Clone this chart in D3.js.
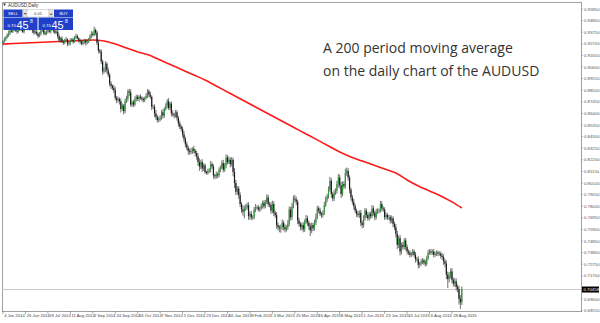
<!DOCTYPE html>
<html><head><meta charset="utf-8">
<script src="https://cdn.jsdelivr.net/npm/d3@7"></script>
<style>html,body{margin:0;padding:0;background:#fff;} svg{display:block;}</style>
</head><body>
<svg id="c" width="600" height="323"></svg>
<script>
// ---- DATA ----
const firstOpen = 0.9275;
const closes = [
0.9290,0.9310,0.9330,0.9350,0.9370,0.9390,0.9380,0.9400,0.9410,0.9390,0.9380,0.9400,0.9420,0.9400,0.9380,0.9410,
0.9420,0.9430,0.9410,0.9440,0.9430,0.9390,0.9370,0.9380,0.9360,0.9340,0.9360,0.9390,0.9400,0.9370,0.9360,0.9380,
0.9390,0.9380,0.9400,0.9410,0.9390,0.9370,0.9380,0.9340,0.9300,0.9320,0.9290,0.9280,0.9300,0.9310,0.9270,0.9280,
0.9300,0.9310,0.9290,0.9330,0.9340,0.9320,0.9300,0.9290,0.9270,0.9290,0.9300,0.9280,0.9290,0.9310,0.9340,0.9360,
0.9350,0.9395,0.9370,0.9280,0.9210,0.9200,0.9110,0.9020,0.9030,0.9090,0.9030,0.8990,0.8910,0.8890,0.8870,0.8850,
0.8780,0.8760,0.8770,0.8750,0.8680,0.8710,0.8660,0.8750,0.8770,0.8840,0.8830,0.8720,0.8740,0.8720,0.8770,0.8790,
0.8770,0.8790,0.8780,0.8770,0.8760,0.8780,0.8800,0.8840,0.8810,0.8790,0.8700,0.8700,0.8640,0.8610,0.8580,0.8590,
0.8600,0.8650,0.8620,0.8680,0.8710,0.8750,0.8690,0.8730,0.8640,0.8630,0.8620,0.8650,0.8600,0.8550,0.8520,0.8500,
0.8450,0.8410,0.8360,0.8330,0.8300,0.8290,0.8300,0.8320,0.8300,0.8280,0.8250,0.8200,0.8160,0.8200,0.8140,0.8170,
0.8110,0.8100,0.8120,0.8130,0.8180,0.8160,0.8080,0.8070,0.8090,0.8080,0.8130,0.8150,0.8190,0.8130,0.8170,0.8240,
0.8200,0.8220,0.8180,0.8220,0.8110,0.8010,0.7930,0.7960,0.7900,0.7820,0.7770,0.7750,0.7780,0.7790,0.7810,0.7710,
0.7730,0.7700,0.7700,0.7770,0.7790,0.7790,0.7770,0.7780,0.7800,0.7830,0.7800,0.7840,0.7880,0.7820,0.7810,0.7760,
0.7820,0.7740,0.7720,0.7630,0.7610,0.7600,0.7610,0.7650,0.7610,0.7590,0.7610,0.7640,0.7770,0.7700,0.7800,0.7870,
0.7860,0.7840,0.7670,0.7640,0.7610,0.7630,0.7590,0.7660,0.7690,0.7650,0.7620,0.7580,0.7630,0.7600,0.7650,0.7700,
0.7780,0.7760,0.7730,0.7720,0.7740,0.7810,0.7860,0.7890,0.7950,0.8030,0.7910,0.7870,0.7920,0.7940,0.8000,0.8060,
0.7990,0.7910,0.8000,0.7980,0.8100,0.8120,0.8060,0.7950,0.7880,0.7840,0.7800,0.7760,0.7730,0.7720,0.7740,0.7650,
0.7630,0.7690,0.7760,0.7720,0.7690,0.7730,0.7710,0.7780,0.7740,0.7700,0.7750,0.7760,0.7760,0.7820,0.7780,0.7770,
0.7700,0.7720,0.7700,0.7700,0.7670,0.7690,0.7640,0.7610,0.7550,0.7450,0.7510,0.7390,0.7450,0.7430,0.7490,0.7430,
0.7390,0.7380,0.7360,0.7370,0.7390,0.7360,0.7320,0.7320,0.7270,0.7280,0.7300,0.7310,0.7290,0.7280,0.7330,0.7380,
0.7390,0.7380,0.7390,0.7360,0.7370,0.7380,0.7370,0.7370,0.7350,0.7340,0.7300,0.7280,0.7180,0.7140,0.7170,0.7210,
0.7130,0.7100,0.7120,0.7070,0.7050,0.6960,0.6930,0.7046
];
// wick lengths in pips (0.0001)
const upWick = [
12,18,10,15,20,8,14,22,10,16,12,18,9,14,20,11,
15,10,22,18,12,16,10,14,20,12,18,9,15,11,17,13,
14,20,11,16,9,18,13,22,15,10,19,12,16,21,10,14,
18,12,16,10,22,14,9,17,13,19,11,15,20,12,16,25,
20,30,14,18,25,12,20,16,28,22,14,24,18,20,12,26,
30,18,22,14,26,20,16,24,30,18,22,28,16,20,24,18,
20,14,22,16,18,12,24,20,16,26,14,18,22,30,16,20,
24,18,30,16,22,20,28,14,18,26,16,22,20,18,24,16,
22,30,18,24,16,20,28,14,26,18,22,30,34,20,26,18,
16,12,20,14,28,18,20,12,24,16,22,18,26,30,20,28,
24,30,20,26,18,34,28,22,20,26,18,40,24,30,22,26,
20,26,18,24,30,16,22,18,26,20,24,18,28,22,20,26,
30,24,20,26,22,18,24,30,20,26,18,34,28,24,30,26,
32,26,20,24,18,22,26,20,30,24,18,26,22,20,28,34,
24,20,26,18,22,30,28,24,30,36,24,20,28,22,30,32,
26,30,24,28,40,30,24,20,18,22,26,20,18,24,22,26,
22,28,24,20,26,18,22,30,24,20,26,22,18,28,24,20,
20,24,18,22,20,26,18,22,30,28,24,30,22,26,20,24,
22,18,20,16,22,18,24,20,26,18,22,20,16,24,22,26,
20,24,18,22,16,20,18,22,20,26,24,22,30,28,34,26,
30,24,28,26,22,30,34,28
];
const dnWick = [
20,10,15,12,18,22,10,14,16,12,20,10,15,18,12,16,
12,16,10,20,14,22,18,12,15,20,10,16,12,22,14,10,
16,10,18,12,20,14,10,24,16,18,12,20,14,10,22,18,
22,14,20,12,16,10,18,24,14,12,20,26,16,14,10,18,
14,12,22,20,26,18,24,30,20,16,28,22,26,30,20,24,
22,28,20,30,32,18,30,20,16,22,34,18,24,20,16,22,
18,24,16,22,20,18,14,20,24,18,30,22,34,28,24,20,
22,18,26,20,16,24,18,22,28,20,24,18,26,30,22,24,
26,30,28,22,34,24,20,26,22,30,28,34,40,24,30,20,
18,14,16,20,24,22,30,26,20,28,18,22,16,24,20,26,
22,18,30,20,40,46,30,26,34,28,30,36,60,24,22,34,
30,26,22,18,24,20,16,22,18,20,24,18,22,26,20,28,
24,30,26,34,28,36,40,24,30,28,20,26,22,30,24,20,
26,30,34,24,28,30,26,22,20,28,34,50,24,26,22,20,
20,24,18,26,22,20,18,24,22,20,34,26,22,18,26,30,
30,34,22,26,20,24,30,34,28,26,30,24,28,22,26,30,
30,24,20,26,22,20,24,18,26,28,20,22,24,18,26,22,
24,20,26,22,28,24,30,26,34,40,28,36,26,24,22,30,
26,22,24,20,18,24,30,22,34,26,20,24,22,26,20,18,
18,22,20,24,18,20,22,18,24,26,30,34,40,80,30,24,
30,28,26,34,30,50,60,24
];
// 200-period moving average, sampled at these bar indexes
const maBars = [0,8,16,24,32,40,48,56,64,72,80,88,96,104,112,120,128,136,144,152,160,168,176,184,192,200,208,216,224,232,240,248,256,264,272,280,288,296,304,312,320,327];
const maValues = [0.9268,0.9273,0.9277,0.9282,0.9286,0.9291,0.9295,0.9300,0.9304,0.9295,0.9268,0.9232,0.9196,0.9169,0.9123,0.9078,0.9033,0.8988,0.8942,0.8888,0.8834,0.8780,0.8725,0.8671,0.8617,0.8562,0.8508,0.8454,0.8400,0.8345,0.8291,0.8246,0.8209,0.8173,0.8137,0.8101,0.8037,0.7983,0.7938,0.7893,0.7839,0.7784];
const dateLabels = ["4 Jun 2014","26 Jun 2014","18 Jul 2014","11 Aug 2014","2 Sep 2014","24 Sep 2014","16 Oct 2014","7 Nov 2014","1 Dec 2014","23 Dec 2014","16 Jan 2015","9 Feb 2015","3 Mar 2015","25 Mar 2015","16 Apr 2015","8 May 2015","1 Jun 2015","23 Jun 2015","15 Jul 2015","6 Aug 2015","28 Aug 2015"];
const barsPerLabel = 16;
const priceTicks = [0.95850,0.94800,0.93750,0.92700,0.91650,0.90600,0.89550,0.88500,0.87450,0.86400,0.85350,0.84300,0.83250,0.82200,0.81150,0.80100,0.79050,0.78000,0.76950,0.75900,0.74850,0.73800,0.72750,0.71700,0.70650,0.69600,0.68550];
const currentPrice = 0.70458;
const annotation = ["A 200 period moving average","on the daily chart of the AUDUSD"];

// ---- CHART ----
(function(){
const svg = d3.select("#c");
const pip = 0.0001;
const bars = closes.map((c,i)=>{
  const o = i===0 ? firstOpen : closes[i-1];
  return {i, o, c, h: Math.max(o,c)+upWick[i]*pip, l: Math.min(o,c)-dnWick[i]*pip};
});
const x = d3.scaleLinear().domain([0, 327]).range([3, 461.8]);
const y = d3.scaleLinear().domain([priceTicks[0], priceTicks[priceTicks.length-1]]).range([9, 310.6]);
const L = 2, R = 581, T = 2, B = 311;

svg.append("rect").attr("x",L+0.5).attr("y",T+0.5).attr("width",R-L).attr("height",B-T)
  .attr("fill","none").attr("stroke","#a0a0a0").attr("stroke-width",1);

svg.append("line").attr("x1",L).attr("x2",R).attr("y1",y(currentPrice)).attr("y2",y(currentPrice))
  .attr("stroke","#c8c8c8").attr("stroke-width",1);

const maPts = maBars.map((b,k)=>[x(b), y(maValues[k])]);
svg.append("path").attr("d", d3.line().curve(d3.curveMonotoneX)(maPts))
  .attr("fill","none").attr("stroke","#ff1a1a").attr("stroke-width",1.6);

const g = svg.append("g");
g.selectAll("line.w").data(bars).join("line").attr("class","w")
  .attr("x1",d=>x(d.i)).attr("x2",d=>x(d.i)).attr("y1",d=>y(d.h)).attr("y2",d=>y(d.l))
  .attr("stroke","#333").attr("stroke-width",0.7);
g.selectAll("rect.b").data(bars).join("rect").attr("class","b")
  .attr("x",d=>x(d.i)-0.6).attr("width",1.2)
  .attr("y",d=>y(Math.max(d.o,d.c))).attr("height",d=>Math.max(0.7, y(Math.min(d.o,d.c))-y(Math.max(d.o,d.c))))
  .attr("fill",d=>d.c>=d.o ? "#2e9a3c" : "#1b1b1b");

const font = "Arial, 'Liberation Sans', sans-serif";
const ra = svg.append("g").attr("font-family",font).attr("font-size","4.3px").attr("fill","#555");
priceTicks.forEach(t=>{
  ra.append("line").attr("x1",R).attr("x2",R+2).attr("y1",y(t)).attr("y2",y(t)).attr("stroke","#888").attr("stroke-width",0.6);
  if (Math.abs(y(t)-y(currentPrice)) > 5)
    ra.append("text").attr("x",R+3).attr("y",y(t)+1.5).text(d3.format(".5f")(t));
});
svg.append("rect").attr("x",R+1).attr("y",y(currentPrice)-3).attr("width",17).attr("height",6).attr("fill","#000");
svg.append("text").attr("x",R+2.5).attr("y",y(currentPrice)+1.6).attr("font-family",font)
  .attr("font-size","4.3px").attr("fill","#fff").text(d3.format(".5f")(currentPrice));

const ba = svg.append("g").attr("font-family",font).attr("font-size","4.2px").attr("fill","#444");
dateLabels.forEach((lab,k)=>{
  const xx = x(k*barsPerLabel);
  ba.append("line").attr("x1",xx).attr("x2",xx).attr("y1",B).attr("y2",B+3).attr("stroke","#777").attr("stroke-width",0.6);
  ba.append("text").attr("x",xx+1.2).attr("y",B+6).text(lab);
});

svg.append("path").attr("d","M3,3.5 L6,3.5 L4.5,6 Z").attr("fill","#333");
svg.append("text").attr("x",8).attr("y",6.5).attr("font-family",font).attr("font-size","4.5px").attr("fill","#333").text("AUDUSD,Daily");

const blue = "#2140c8";
const p = svg.append("g").attr("font-family",font);
p.append("rect").attr("x",3.5).attr("y",9.5).attr("width",19).attr("height",7.5).attr("fill",blue);
p.append("text").attr("x",13).attr("y",14.8).attr("text-anchor","middle").attr("font-size","4px").attr("fill","#fff").text("SELL");
p.append("rect").attr("x",23).attr("y",9.5).attr("width",4).attr("height",7.5).attr("fill","#e6e6e6").attr("stroke","#aaa").attr("stroke-width",0.4);
p.append("rect").attr("x",27).attr("y",9.5).attr("width",22).attr("height",7.5).attr("fill","#fff").attr("stroke","#aaa").attr("stroke-width",0.4);
p.append("text").attr("x",38).attr("y",14.8).attr("text-anchor","middle").attr("font-size","4px").attr("fill","#333").text("0.01");
p.append("rect").attr("x",49).attr("y",9.5).attr("width",4).attr("height",7.5).attr("fill","#e6e6e6").attr("stroke","#aaa").attr("stroke-width",0.4);
p.append("text").attr("x",25).attr("y",14.5).attr("text-anchor","middle").attr("font-size","3.5px").attr("fill","#333").text("▾");
p.append("text").attr("x",51).attr("y",14.5).attr("text-anchor","middle").attr("font-size","3.5px").attr("fill","#333").text("▴");
p.append("rect").attr("x",54).attr("y",9.5).attr("width",19).attr("height",7.5).attr("fill",blue);
p.append("text").attr("x",63.5).attr("y",14.8).attr("text-anchor","middle").attr("font-size","4px").attr("fill","#fff").text("BUY");
[[3.5,34],[38.5,34.5]].forEach(([bx,bw])=>{
  p.append("rect").attr("x",bx).attr("y",17.5).attr("width",bw).attr("height",12.5).attr("fill",blue);
  p.append("text").attr("x",bx+4).attr("y",27).attr("font-size","4.3px").attr("fill","#fff").text("0.70");
  p.append("text").attr("x",bx+13).attr("y",28.5).attr("font-size","11px").attr("fill","#fff").text("45");
  p.append("text").attr("x",bx+26.5).attr("y",23).attr("font-size","5px").attr("fill","#fff").text("8");
});

const an = svg.append("g").attr("font-family","'Open Sans', sans-serif").attr("font-size","14px").attr("fill","#333");
annotation.forEach((t,k)=>an.append("text").attr("x",323).attr("y",53+k*23).text(t));
})();
</script>
</body></html>
